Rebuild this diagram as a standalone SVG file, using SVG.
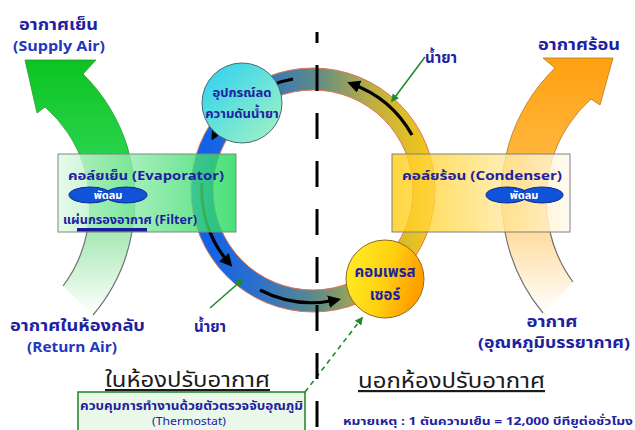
<svg xmlns="http://www.w3.org/2000/svg" width="635" height="430" viewBox="0 0 635 430">
<style>
text{font-family:'Noto Sans Thai','Tahoma','Loma','Garuda','Liberation Sans',sans-serif;font-weight:bold;fill:#1e22a0}
.lbl{font-size:15px}
.en{font-size:14px;fill:#2236c0}
.box{font-size:13px}
.fan{font-size:11px;fill:#ffffff}
.big{font-size:22px;fill:#1a1a1a;font-weight:normal;text-decoration:underline}
.arc{fill:none;stroke:#000;stroke-width:3.2;marker-end:url(#ah)}
.lead{stroke:#1e8a2a;stroke-width:1.6;fill:none;marker-end:url(#gh)}
.fanS{fill:#1052d8;stroke:#0c2c90;stroke-width:1}
</style>
<defs>
<marker id="ah" viewBox="0 0 10 10" refX="6" refY="5" markerWidth="4" markerHeight="4" orient="auto"><path d="M0,0 L10,5 L0,10 Z" fill="#000"/></marker>
<marker id="gh" viewBox="0 0 10 10" refX="8" refY="5" markerWidth="5" markerHeight="5" orient="auto"><path d="M0,0 L10,5 L0,10 Z" fill="#1e8a2a"/></marker>
<linearGradient id="gArrow" x1="0" y1="0" x2="0" y2="1"><stop offset="0" stop-color="#0cc420"/><stop offset="1" stop-color="#40e070"/></linearGradient>
<linearGradient id="gFade" x1="0" y1="0" x2="0" y2="1"><stop offset="0" stop-color="#a8e8b4"/><stop offset="1" stop-color="#ffffff"/></linearGradient>
<linearGradient id="oArrow" x1="0" y1="0" x2="0" y2="1"><stop offset="0" stop-color="#ffa010"/><stop offset="1" stop-color="#ffc860"/></linearGradient>
<linearGradient id="oFade" x1="0" y1="0" x2="0" y2="1"><stop offset="0" stop-color="#ffdca0"/><stop offset="1" stop-color="#ffffff"/></linearGradient>
<linearGradient id="ring" gradientUnits="userSpaceOnUse" x1="191" y1="0" x2="435" y2="0"><stop offset="0" stop-color="#0a5ef0"/><stop offset="0.25" stop-color="#2a6ed0"/><stop offset="0.5" stop-color="#5a8a8a"/><stop offset="0.75" stop-color="#c0b040"/><stop offset="1" stop-color="#f8c818"/></linearGradient>
<linearGradient id="evap" x1="0" y1="0" x2="1" y2="0"><stop offset="0" stop-color="#e2f8e6" stop-opacity="0.8"/><stop offset="1" stop-color="#1cd858" stop-opacity="0.8"/></linearGradient>
<linearGradient id="cond" x1="0" y1="0" x2="1" y2="0"><stop offset="0" stop-color="#ffcc10" stop-opacity="0.8"/><stop offset="1" stop-color="#fffaf0" stop-opacity="0.8"/></linearGradient>
<linearGradient id="valve" x1="0" y1="0" x2="1" y2="1"><stop offset="0" stop-color="#28d0f4"/><stop offset="1" stop-color="#a8f4c0"/></linearGradient>
<linearGradient id="comp" x1="0" y1="0" x2="1" y2="0.3"><stop offset="0" stop-color="#fff228"/><stop offset="0.6" stop-color="#ffd010"/><stop offset="1" stop-color="#ffa000"/></linearGradient>
</defs>

<g id="supply-air-arrow">
<path d="M25,60 L96,60 L83,74 A175,175 0 0 1 132,232 L87,232 A130,130 0 0 0 45,107 L37,113 Z" fill="url(#gArrow)" stroke="#2a9a30" stroke-width="0.8"/>
</g>
<g id="return-air">
<path d="M87,232 A130,130 0 0 1 63,286 L93,315 A175,175 0 0 0 132,232 Z" fill="url(#gFade)"/>
<path d="M87,232 A130,130 0 0 1 63,286 M93,315 A175,175 0 0 0 132,232" fill="none" stroke="#707070" stroke-width="1.2"/>
</g>
<g id="hot-air-arrow">
<path d="M613,58 L543,58 L555,68 A178,178 0 0 0 505,232 L550,232 A135,135 0 0 1 591,99 L600,105 Z" fill="url(#oArrow)" stroke="#b07820" stroke-width="0.8"/>
</g>
<g id="ambient-air">
<path d="M505,232 A178,178 0 0 0 543,313 L573,282 A135,135 0 0 1 550,232 Z" fill="url(#oFade)"/>
<path d="M505,232 A178,178 0 0 0 543,313 M573,282 A135,135 0 0 1 550,232" fill="none" stroke="#707070" stroke-width="1.2"/>
</g>

<g id="refrigerant-ring">
<circle cx="313" cy="190" r="111" fill="none" stroke="url(#ring)" stroke-width="22"/>
<circle cx="313" cy="190" r="122" fill="none" stroke="#e07458" stroke-width="1"/>
<circle cx="313" cy="190" r="100" fill="none" stroke="#e07458" stroke-width="1"/>
</g>

<g id="connectors">
<path class="arc" d="M412,135 A113,113 0 0 0 352,84"/>
<path class="arc" d="M293,79 A113,113 0 0 0 214,136"/>
<path class="arc" d="M202,183 A111,111 0 0 0 229,263"/>
<path class="arc" d="M260,290 A113,113 0 0 0 336,300"/>
<path class="lead" d="M425,57 L392,101"/>
<path class="lead" d="M210,308 L242,280"/>
<path class="lead" d="M305,392 L362,318" stroke-dasharray="5 4"/>
</g>

<g id="divider">
<line x1="317" y1="32" x2="317" y2="430" stroke="#000" stroke-width="3" stroke-dasharray="26 22" stroke-dashoffset="15"/>
</g>

<g id="evaporator">
<rect x="58" y="154" width="178" height="78" fill="url(#evap)" stroke="#7a8a7a" stroke-width="1"/>
<text class="box" x="68" y="180" textLength="156" lengthAdjust="spacingAndGlyphs">คอล์ยเย็น (Evaporator)</text>
<ellipse class="fanS" cx="90" cy="195" rx="21" ry="8"/>
<ellipse class="fanS" cx="126" cy="195" rx="21" ry="8"/>
<text class="fan" x="108" y="199" text-anchor="middle">พัดลม</text>
<text class="box" x="63" y="224" style="font-size:12px" textLength="134" lengthAdjust="spacingAndGlyphs">แผ่นกรองอากาศ (Filter)</text>
<rect x="77" y="228" width="70" height="3.5" fill="#1a1aa0"/>
</g>

<g id="condenser">
<rect x="392" y="154" width="178" height="78" fill="url(#cond)" stroke="#808080" stroke-width="1"/>
<text class="box" x="402" y="180" textLength="160" lengthAdjust="spacingAndGlyphs">คอล์ยร้อน (Condenser)</text>
<ellipse class="fanS" cx="507" cy="195" rx="21" ry="8"/>
<ellipse class="fanS" cx="542" cy="195" rx="21" ry="8"/>
<text class="fan" x="524" y="199" text-anchor="middle">พัดลม</text>
</g>

<g id="expansion-valve">
<circle cx="242" cy="103" r="40" fill="url(#valve)" stroke="#4a6a70" stroke-width="1"/>
<text class="box" x="242" y="97" text-anchor="middle">อุปกรณ์ลด</text>
<text class="box" x="242" y="118" text-anchor="middle">ความดันน้ำยา</text>
</g>

<g id="compressor">
<circle cx="385" cy="279" r="39" fill="url(#comp)" stroke="#8a6a20" stroke-width="1"/>
<text class="lbl" x="385" y="277" text-anchor="middle">คอมเพรส</text>
<text class="lbl" x="385" y="300" text-anchor="middle">เซอร์</text>
</g>

<g id="labels">
<text class="lbl" x="19" y="30" textLength="79" lengthAdjust="spacingAndGlyphs">อากาศเย็น</text>
<text class="en" x="13" y="51" textLength="92" lengthAdjust="spacingAndGlyphs">(Supply Air)</text>
<text class="lbl" x="538" y="50" textLength="82" lengthAdjust="spacingAndGlyphs">อากาศร้อน</text>
<text class="lbl" x="425" y="63">น้ำยา</text>
<text class="lbl" x="194" y="332">น้ำยา</text>
<text class="lbl" x="10" y="331" textLength="135" lengthAdjust="spacingAndGlyphs">อากาศในห้องกลับ</text>
<text class="en" x="27" y="352" textLength="90" lengthAdjust="spacingAndGlyphs">(Return Air)</text>
<text class="lbl" x="552" y="327" text-anchor="middle" textLength="51" lengthAdjust="spacingAndGlyphs">อากาศ</text>
<text class="lbl" x="554" y="348" text-anchor="middle" textLength="152" lengthAdjust="spacingAndGlyphs">(อุณหภูมิบรรยากาศ)</text>
<text class="big" x="105" y="387" textLength="165" lengthAdjust="spacingAndGlyphs">ในห้องปรับอากาศ</text>
<text class="big" x="358" y="388" textLength="187" lengthAdjust="spacingAndGlyphs">นอกห้องปรับอากาศ</text>
<text x="343" y="425" style="font-size:11px" textLength="290" lengthAdjust="spacingAndGlyphs">หมายเหตุ : 1 ตันความเย็น = 12,000 บีทียูต่อชั่วโมง</text>
</g>

<g id="thermostat">
<rect x="78" y="392" width="227" height="44" fill="#eaf8ea" stroke="#22802a" stroke-width="1.5"/>
<text x="80" y="410" style="font-size:11.5px" textLength="223" lengthAdjust="spacingAndGlyphs">ควบคุมการทำงานด้วยตัวตรวจจับอุณภูมิ</text>
<text x="189" y="425" text-anchor="middle" style="font-size:10px;font-weight:normal" textLength="74" lengthAdjust="spacingAndGlyphs">(Thermostat)</text>
</g>
</svg>
